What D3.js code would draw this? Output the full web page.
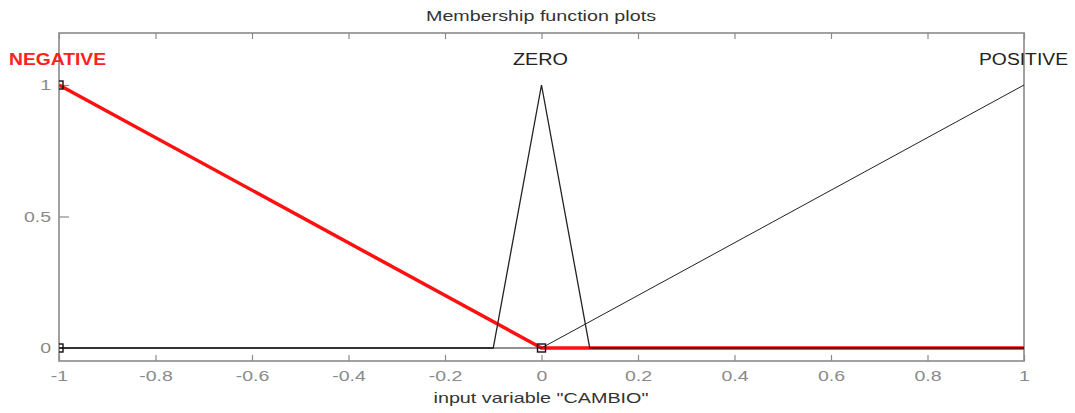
<!DOCTYPE html>
<html><head><meta charset="utf-8">
<script src="https://cdn.jsdelivr.net/npm/d3@7"></script>
<style>body{margin:0;background:#fff}svg{display:block}text{font-family:"Liberation Sans",Arial,sans-serif}</style>
</head><body>
<script>
const xTicks = [-1,-0.8,-0.6,-0.4,-0.2,0,0.2,0.4,0.6,0.8,1];
const yTicks = [0,0.5,1];
const negX = [-1,0,1], negY = [1,0,0];
const zeroX = [-1,-0.1,0,0.1,1], zeroY = [0,0,1,0,0];
const posX = [-1,0,1], posY = [0,0,1];
const mfNames = ["NEGATIVE","ZERO","POSITIVE"];
const mfPeaks = [-1,0,1];
const markerX = [-1,-1,0], markerY = [1,0,0];

(function(){
const W=1075,H=413;
const svg=d3.select("body").append("svg").attr("width",W).attr("height",H);
const x=d3.scaleLinear().domain([-1,1]).range([59,1024]);
const y=d3.scaleLinear().domain([0,1]).range([348,85]);
const boxTop=33,boxBottom=361;
const grey="#8a8a8a";
const stretch=(sel,f)=>sel.each(function(){const l=this.getComputedTextLength();d3.select(this).attr("textLength",l*f).attr("lengthAdjust","spacingAndGlyphs");});
const fit=(sel,w)=>sel.attr("textLength",w).attr("lengthAdjust","spacingAndGlyphs");

svg.append("defs").append("clipPath").attr("id","pc").append("rect").attr("x",59).attr("y",boxTop).attr("width",970).attr("height",boxBottom-boxTop);

fit(svg.append("text").attr("x",541).attr("y",21).attr("text-anchor","middle").attr("font-size",14).attr("fill","#333").text("Membership function plots"),230);

svg.append("rect").attr("x",59).attr("y",boxTop).attr("width",965).attr("height",boxBottom-boxTop).attr("fill","none").attr("stroke",grey).attr("stroke-width",1.6);

const fmt=d=>String(d);
const xb=svg.append("g").attr("transform",`translate(0,${boxBottom})`).call(d3.axisBottom(x).tickValues(xTicks).tickSize(-6).tickPadding(9).tickFormat(fmt));
const xt=svg.append("g").attr("transform",`translate(0,${boxTop})`).call(d3.axisTop(x).tickValues(xTicks).tickSize(-6).tickFormat(""));
const yl=svg.append("g").attr("transform",`translate(59,0)`).call(d3.axisLeft(y).tickValues(yTicks).tickSize(-10).tickPadding(8).tickFormat(fmt));
[xb,xt,yl].forEach(g=>{g.select(".domain").remove();g.selectAll("line").attr("stroke",grey).attr("stroke-width",1.2);g.selectAll("text").attr("fill",grey).attr("font-size",15).attr("font-family","Liberation Sans, Arial, sans-serif");});
stretch(xb.selectAll("text"),1.3);
stretch(yl.selectAll("text"),1.3);

fit(svg.append("text").attr("x",541).attr("y",403).attr("text-anchor","middle").attr("font-size",15).attr("fill","#333").text('input variable "CAMBIO"'),215);

const line=d3.line().x(d=>x(d[0])).y(d=>y(d[1]));
const zip=(a,b)=>a.map((v,i)=>[v,b[i]]);
const plot=svg.append("g").attr("clip-path","url(#pc)");
plot.append("path").attr("d",line(zip(negX,negY))).attr("fill","none").attr("stroke","#ff1010").attr("stroke-width",3.5);
plot.append("path").attr("d",line(zip(zeroX,zeroY))).attr("fill","none").attr("stroke","#222").attr("stroke-width",1.3);
plot.append("path").attr("d",line(zip(posX,posY))).attr("fill","none").attr("stroke","#222").attr("stroke-width",1);
plot.append("line").attr("x1",x(-1)).attr("x2",x(-0.1)).attr("y1",y(0)).attr("y2",y(0)).attr("stroke","#333").attr("stroke-width",2.2);
plot.append("line").attr("x1",x(0.1)).attr("x2",x(1)).attr("y1",y(0)).attr("y2",y(0)).attr("stroke","#8a0000").attr("stroke-width",1.2);

plot.selectAll("rect.m").data(zip(markerX,markerY)).enter().append("rect").attr("class","m")
 .attr("x",d=>x(d[0])-4).attr("y",d=>y(d[1])-4).attr("width",8).attr("height",8).attr("fill","none").attr("stroke","#111").attr("stroke-width",1.4);

const labW=[97,55,89];
const labX=[57.5,540.5,1023.5];
svg.selectAll("text.mf").data(mfNames).enter().append("text").attr("class","mf")
 .attr("x",(d,i)=>labX[i]).attr("y",65).attr("text-anchor","middle")
 .attr("font-size",16).attr("font-weight",(d,i)=>i==0?"bold":"normal")
 .attr("fill",(d,i)=>i==0?"#ff2020":"#222").text(d=>d)
 .attr("textLength",(d,i)=>labW[i]).attr("lengthAdjust","spacingAndGlyphs");
})();
</script>
</body></html>
